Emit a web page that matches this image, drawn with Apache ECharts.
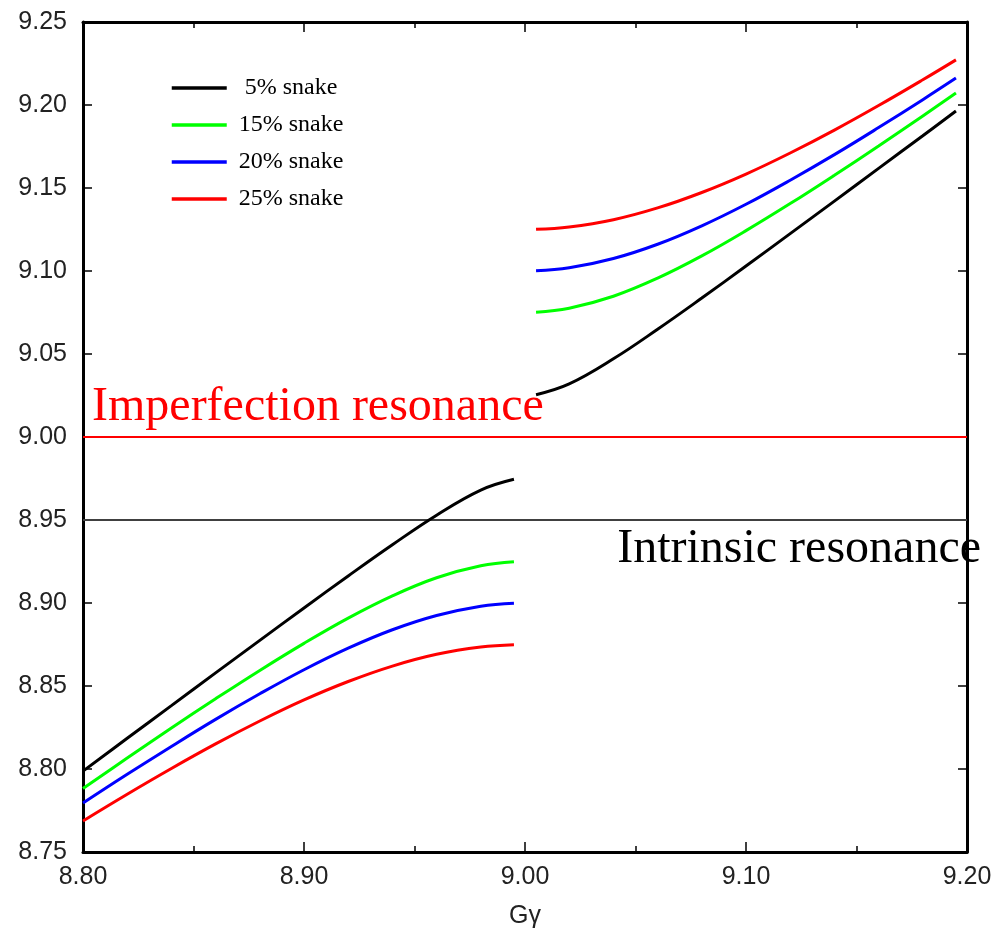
<!DOCTYPE html>
<html>
<head>
<meta charset="utf-8">
<title>Spin tune vs Gγ with partial snakes</title>
<script src="https://cdn.jsdelivr.net/npm/echarts@6/dist/echarts.min.js"></script>
<style>
  html, body { margin: 0; padding: 0; background: #ffffff; }
  #chart { width: 1003px; height: 934px; }
</style>
</head>
<body>
<div id="chart"></div>
<script>
// Gγ sample points below and above the integer 9
const gammaLow  = [8.80, 8.82, 8.84, 8.86, 8.88, 8.90, 8.92, 8.94, 8.96, 8.98, 8.995];
const gammaHigh = [9.005, 9.02, 9.04, 9.06, 9.08, 9.10, 9.12, 9.14, 9.16, 9.18, 9.195];

// spin tune for each partial snake strength
const snake5Low   = [8.7987, 8.8185, 8.8382, 8.8579, 8.8775, 8.8970, 8.9163, 8.9351, 8.9529, 8.9680, 8.9745];
const snake5High  = [9.0255, 9.0320, 9.0471, 9.0649, 9.0837, 9.1030, 9.1225, 9.1421, 9.1618, 9.1815, 9.1964];
const snake15Low  = [8.7882, 8.8066, 8.8247, 8.8423, 8.8594, 8.8757, 8.8909, 8.9043, 8.9152, 8.9224, 8.9248];
const snake15High = [9.0752, 9.0776, 9.0848, 9.0957, 9.1091, 9.1243, 9.1406, 9.1577, 9.1753, 9.1934, 9.2072];
const snake20Low  = [8.7795, 8.7968, 8.8136, 8.8299, 8.8453, 8.8598, 8.8728, 8.8839, 8.8925, 8.8981, 8.8999];
const snake20High = [9.1001, 9.1019, 9.1075, 9.1161, 9.1272, 9.1402, 9.1547, 9.1701, 9.1864, 9.2032, 9.2162];
const snake25Low  = [8.7687, 8.7848, 8.8003, 8.8151, 8.8289, 8.8416, 8.8527, 8.8620, 8.8691, 8.8735, 8.8749];
const snake25High = [9.1251, 9.1265, 9.1309, 9.1380, 9.1473, 9.1584, 9.1711, 9.1849, 9.1997, 9.2152, 9.2272];

const seriesNames  = [' 5% snake', '15% snake', '20% snake', '25% snake'];
const seriesColors = ['#000000', '#00ff00', '#0000ff', '#ff0000'];

// resonance levels
const imperfectionLevel = 9.00;
const intrinsicLevel = 8.95;

// axis ranges
const xMin = 8.80, xMax = 9.20, xStep = 0.10;
const yMin = 8.75, yMax = 9.25, yStep = 0.05;

// join the two branches with a break at the integer
function branchPairs(low, high) {
  const pts = gammaLow.map((g, i) => [g, low[i]]);
  pts.push([9.0, '-']);
  gammaHigh.forEach((g, i) => pts.push([g, high[i]]));
  return pts;
}

const curves = [
  [snake5Low, snake5High],
  [snake15Low, snake15High],
  [snake20Low, snake20High],
  [snake25Low, snake25High]
];

const tickFont = {
  fontFamily: '"Liberation Sans", Arial, sans-serif',
  fontSize: 25,
  color: '#222222'
};

const axisLine = { show: true, onZero: false, lineStyle: { color: '#000000', width: 3 } };

const chart = echarts.init(document.getElementById('chart'), null, { renderer: 'canvas' });

const series = curves.map((c, i) => ({
  name: seriesNames[i],
  type: 'line',
  xAxisIndex: 0,
  yAxisIndex: 0,
  data: branchPairs(c[0], c[1]),
  smooth: 0.4,
  symbol: 'none',
  connectNulls: false,
  lineStyle: { color: seriesColors[i], width: 3 },
  itemStyle: { color: seriesColors[i] },
  z: 3
}));

// resonance lines with their labels
series[0].markLine = {
  silent: true,
  symbol: 'none',
  animation: false,
  z: 2,
  data: [
    {
      yAxis: imperfectionLevel,
      lineStyle: { color: '#ff0000', width: 2, type: 'solid' },
      label: {
        show: true,
        position: 'insideStartTop',
        formatter: 'Imperfection resonance',
        color: '#ff0000',
        fontFamily: '"Liberation Serif", "Times New Roman", serif',
        fontSize: 48,
        distance: [9, 6]
      }
    },
    {
      yAxis: intrinsicLevel,
      lineStyle: { color: '#404040', width: 2, type: 'solid' },
      label: {
        show: true,
        position: 'insideEndBottom',
        formatter: 'Intrinsic resonance',
        color: '#000000',
        fontFamily: '"Liberation Serif", "Times New Roman", serif',
        fontSize: 48,
        distance: [-14, 5]
      }
    }
  ]
};

const option = {
  animation: false,
  backgroundColor: '#ffffff',
  grid: { left: 83, right: 36, top: 22, bottom: 82, containLabel: false, outerBoundsMode: 'none' },
  legend: {
    data: seriesNames,
    orient: 'vertical',
    left: 165,
    top: 71,
    itemWidth: 55,
    itemHeight: 14,
    itemGap: 13,
    itemStyle: { opacity: 0 },
    lineStyle: { width: 3.5 },
    textStyle: {
      fontFamily: '"Liberation Serif", "Times New Roman", serif',
      fontSize: 24,
      color: '#000000',
      padding: [0, 0, 0, 7]
    }
  },
  xAxis: [
    {
      type: 'value',
      position: 'bottom',
      min: xMin, max: xMax, interval: xStep,
      name: 'Gγ',
      nameLocation: 'middle',
      nameGap: 52,
      nameTextStyle: tickFont,
      axisLine: axisLine,
      axisTick: { show: true, inside: true, length: 10, lineStyle: { color: '#000000', width: 1.5 } },
      minorTick: { show: true, splitNumber: 2, length: 6, lineStyle: { color: '#000000', width: 1.5 } },
      axisLabel: Object.assign({ margin: 13, formatter: v => v.toFixed(2) }, tickFont),
      splitLine: { show: false }
    },
    {
      type: 'value',
      position: 'top',
      min: xMin, max: xMax, interval: xStep,
      axisLine: axisLine,
      axisTick: { show: true, inside: true, length: 10, lineStyle: { color: '#000000', width: 1.5 } },
      minorTick: { show: true, splitNumber: 2, length: 6, lineStyle: { color: '#000000', width: 1.5 } },
      axisLabel: { show: false },
      splitLine: { show: false }
    }
  ],
  yAxis: [
    {
      type: 'value',
      position: 'left',
      min: yMin, max: yMax, interval: yStep,
      axisLine: axisLine,
      axisTick: { show: true, inside: true, length: 9, lineStyle: { color: '#000000', width: 1.5 } },
      axisLabel: Object.assign({ margin: 16, formatter: v => v.toFixed(2) }, tickFont),
      splitLine: { show: false }
    },
    {
      type: 'value',
      position: 'right',
      min: yMin, max: yMax, interval: yStep,
      axisLine: axisLine,
      axisTick: { show: true, inside: true, length: 9, lineStyle: { color: '#000000', width: 1.5 } },
      axisLabel: { show: false },
      splitLine: { show: false }
    }
  ],
  series: series
};

chart.setOption(option);
</script>
</body>
</html>
